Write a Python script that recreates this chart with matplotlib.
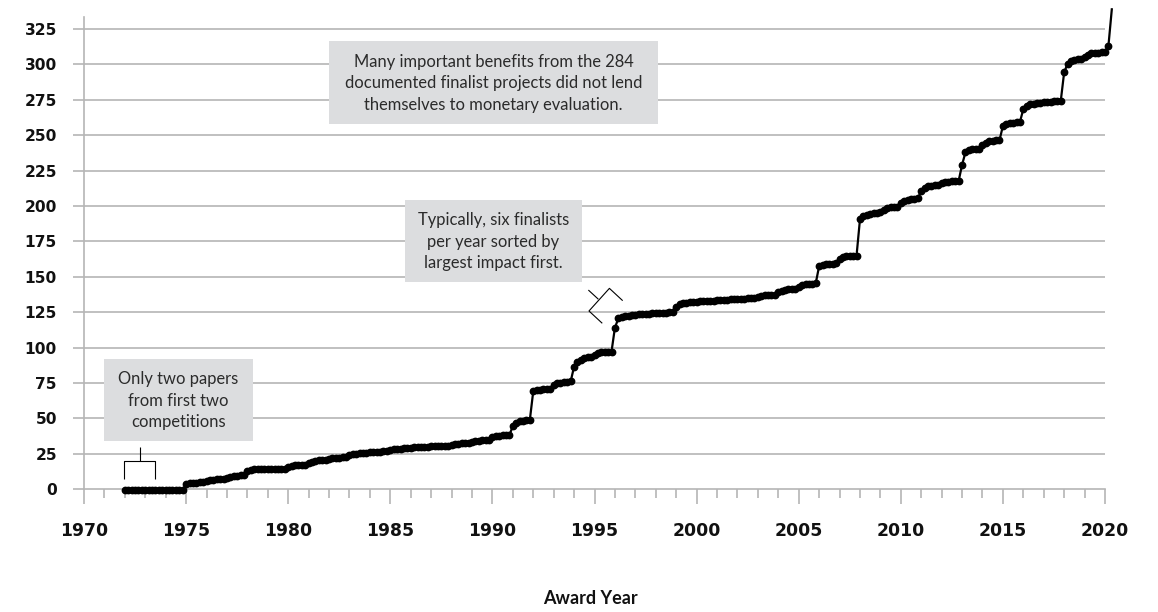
import matplotlib
matplotlib.use("Agg")
import matplotlib.pyplot as plt
from matplotlib.patches import Rectangle
from matplotlib.ticker import MultipleLocator

# ---- data (cumulative benefit after each finalist, grouped by award year) ----
award_years = list(range(1972, 2021))
cum_by_year = [
    [-1, -1, -1, -1, -1, -1],                     # 1972
    [-1, -1, -1, -1, -1, -1],                     # 1973
    [-1, -1, -1, -1, -1, -1],                     # 1974
    [3.5, 4.0, 4.3, 4.5, 4.6, 4.7],               # 1975
    [5.5, 6.2, 6.6, 6.8, 6.9, 7.0],               # 1976
    [8.0, 8.8, 9.2, 9.5, 9.7, 9.8],               # 1977
    [12.5, 13.5, 13.8, 14.0, 14.1, 14.1],         # 1978
    [14.2, 14.3, 14.3, 14.4, 14.4, 14.4],         # 1979
    [15.5, 16.3, 16.7, 17.0, 17.1, 17.2],         # 1980
    [18.5, 19.4, 19.9, 20.2, 20.4, 20.5],         # 1981
    [21.0, 21.6, 22.0, 22.2, 22.4, 22.5],         # 1982
    [24.0, 24.6, 24.9, 25.1, 25.2, 25.3],         # 1983
    [25.8, 26.2, 26.4, 26.5, 26.6, 26.7],         # 1984
    [27.8, 28.2, 28.4, 28.6, 28.7, 28.8],         # 1985
    [29.2, 29.5, 29.7, 29.8, 29.9, 30.0],         # 1986
    [30.2, 30.4, 30.5, 30.6, 30.7, 30.7],         # 1987
    [31.3, 31.8, 32.1, 32.3, 32.4, 32.5],         # 1988
    [33.3, 33.8, 34.1, 34.3, 34.4, 34.5],         # 1989
    [36.5, 37.3, 37.7, 37.9, 38.0, 38.1],         # 1990
    [44.5, 46.8, 47.8, 48.3, 48.6, 48.8],         # 1991
    [69.0, 69.8, 70.2, 70.4, 70.6, 70.7],         # 1992
    [73.5, 74.6, 75.2, 75.6, 75.8, 76.0],         # 1993
    [86.5, 90.0, 91.5, 92.4, 93.0, 93.4],         # 1994
    [95.0, 96.0, 96.5, 96.8, 97.0, 97.1],         # 1995
    [114.0, 120.5, 121.6, 122.2, 122.6, 122.9],   # 1996
    [123.2, 123.5, 123.7, 123.9, 124.0, 124.1],   # 1997
    [124.3, 124.5, 124.6, 124.7, 124.8, 124.8],   # 1998
    [128.5, 130.5, 131.3, 131.7, 131.9, 132.0],   # 1999
    [132.3, 132.6, 132.8, 133.0, 133.1, 133.2],   # 2000
    [133.4, 133.6, 133.8, 133.9, 134.0, 134.0],   # 2001
    [134.3, 134.5, 134.6, 134.7, 134.8, 134.8],   # 2002
    [135.5, 136.3, 136.8, 137.1, 137.3, 137.4],   # 2003
    [139.0, 140.0, 140.6, 141.0, 141.2, 141.3],   # 2004
    [142.8, 144.0, 144.6, 145.0, 145.2, 145.3],   # 2005
    [157.5, 158.6, 159.0, 159.2, 159.3, 159.4],   # 2006
    [162.5, 163.8, 164.4, 164.7, 164.9, 165.0],   # 2007
    [190.5, 192.8, 193.8, 194.4, 194.7, 194.9],   # 2008
    [196.0, 197.5, 198.4, 199.0, 199.4, 199.6],   # 2009
    [202.0, 203.6, 204.5, 205.0, 205.3, 205.5],   # 2010
    [210.5, 212.8, 213.8, 214.4, 214.7, 214.9],   # 2011
    [216.0, 216.8, 217.2, 217.5, 217.7, 217.8],   # 2012
    [229.0, 238.0, 239.3, 240.0, 240.4, 240.6],   # 2013
    [243.0, 244.8, 245.6, 246.0, 246.3, 246.5],   # 2014
    [256.5, 258.0, 258.6, 259.0, 259.2, 259.3],   # 2015
    [268.5, 270.8, 271.8, 272.3, 272.6, 272.8],   # 2016
    [273.2, 273.5, 273.8, 274.0, 274.1, 274.2],   # 2017
    [294.5, 300.5, 302.3, 303.2, 303.7, 304.0],   # 2018
    [305.5, 307.0, 307.8, 308.2, 308.4, 308.5],   # 2019
    [309.0, 313.0, 339.0],                        # 2020
]
y_ticks = list(range(0, 326, 25))
x_major_ticks = list(range(1970, 2021, 5))

note_top = ("Many important benefits from the 284\n"
            "documented finalist projects did not lend\n"
            "themselves to monetary evaluation.")
note_mid = "Typically, six finalists\nper year sorted by\nlargest impact first."
note_low = "Only two papers\nfrom first two\ncompetitions"
x_label = "Award Year"

# ---- build point positions (finalists spread across their award year) ----
xs, ys = [], []
for yr, vals in zip(award_years, cum_by_year):
    for i, v in enumerate(vals):
        xs.append(yr + i / 6.0)
        ys.append(v)

# ---- figure ----
W, H = 1158, 612
fig = plt.figure(figsize=(W / 100, H / 100), dpi=100)
px_per_year = 20.42
y0_px, px_per_unit = 489.0, 1.415
ymin, ymax = -15, 340
xmin, xmax = 1970, 2020.5
top_px = y0_px - ymax * px_per_unit
bot_px = y0_px - ymin * px_per_unit
ax = fig.add_axes([84 / W, (H - bot_px) / H, (xmax - xmin) * px_per_year / W, (bot_px - top_px) / H])
ax.set_xlim(xmin, xmax)
ax.set_ylim(ymin, ymax)

grid_c = "#b5b5b5"
for t in y_ticks[1:]:
    ax.plot([1970, 2020], [t, t], color=grid_c, lw=1.2, zorder=1, solid_capstyle="butt")

for s in ["top", "right"]:
    ax.spines[s].set_visible(False)
ax.spines["bottom"].set_position(("data", 0))
ax.spines["bottom"].set_bounds(1970, 2020)
ax.spines["left"].set_bounds(0, 333.5)
for s in ["bottom", "left"]:
    ax.spines[s].set_color(grid_c)
    ax.spines[s].set_linewidth(1.2)

ax.set_yticks(y_ticks)
ax.set_xticks(x_major_ticks)
ax.xaxis.set_minor_locator(MultipleLocator(1))
ax.tick_params(axis="y", direction="out", length=8, width=1.2, color=grid_c, pad=11.5,
               labelsize=11.2, labelcolor="#111111")
ax.tick_params(axis="x", which="major", direction="out", length=10.5, width=1.2, color=grid_c,
               pad=13, labelsize=12.4, labelcolor="#111111")
ax.tick_params(axis="x", which="minor", direction="out", length=6.5, width=1.2, color=grid_c)
for lab in ax.get_yticklabels() + ax.get_xticklabels():
    lab.set_fontfamily("DejaVu Sans")
    lab.set_fontweight("bold")

# series: line plus finalist markers (last point drawn without a marker)
ax.plot(xs, ys, color="black", lw=1.6, zorder=5, solid_joinstyle="round", clip_on=False)
ax.plot(xs[:-1], ys[:-1], ls="none", marker="o", ms=4.6, mec="black", mfc="black",
        zorder=6, clip_on=False)

# annotation boxes
box_c = "#dcdddf"
txt_c = "#2b2b2b"
def box(x0, x1, yb, yt, text, cx, cy):
    ax.add_patch(Rectangle((x0, yb), x1 - x0, yt - yb, facecolor=box_c, edgecolor="none", zorder=3))
    ax.text(cx, cy, text, ha="center", va="center", fontsize=11.9, family="Lato",
            color=txt_c, linespacing=1.42, zorder=4)

box(1982.0, 1998.11, 258.0, 316.6, note_top, 1990.05, 286.8)
box(1985.72, 1994.39, 146.3, 204.2, note_mid, 1990.05, 174.8)
box(1970.98, 1978.28, 33.9, 91.9, note_low, 1974.62, 62.4)

# brackets
bk = dict(color="black", lw=0.8, zorder=4, solid_capstyle="butt")
ax.plot([1972.74, 1972.74], [29.9, 19.8], **bk)
ax.plot([1971.97, 1971.97, 1973.49, 1973.49], [6.9, 19.8, 19.8, 6.9], **bk)
ax.plot([1994.70, 1995.19], [140.6, 134.1], **bk)
ax.plot([1996.38, 1995.73, 1994.73, 1995.38], [133.1, 141.8, 125.8, 117.1], **bk)

fig.text(590 / W, (H - 598) / H, x_label, ha="center", va="center", fontsize=13,
         family="Lato", fontweight="bold", color="#111111")

fig.savefig("out.png", dpi=100)
